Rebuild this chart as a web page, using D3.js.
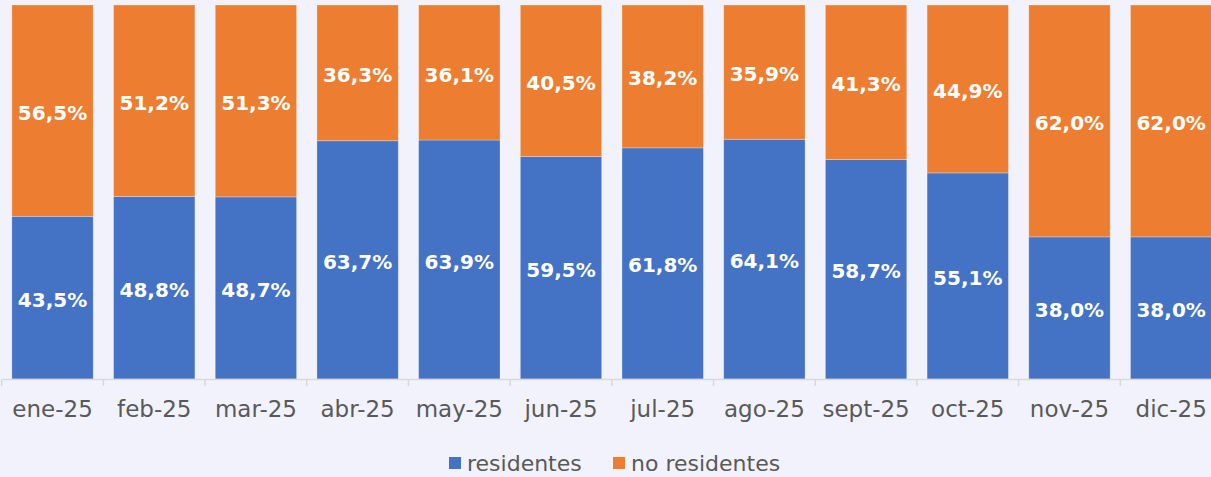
<!DOCTYPE html>
<html>
<head>
<meta charset="utf-8">
<script src="https://cdn.jsdelivr.net/npm/d3@7"></script>
<style>
  body { margin: 0; background: #f2f2fc; }
  svg { display: block; }
</style>
</head>
<body>
<script>
//chart data
var months = ["ene-25", "feb-25", "mar-25", "abr-25", "may-25", "jun-25",
              "jul-25", "ago-25", "sept-25", "oct-25", "nov-25", "dic-25"];
var residentes = [43.5, 48.8, 48.7, 63.7, 63.9, 59.5, 61.8, 64.1, 58.7, 55.1, 38.0, 38.0];
var noResidentes = [56.5, 51.2, 51.3, 36.3, 36.1, 40.5, 38.2, 35.9, 41.3, 44.9, 62.0, 62.0];
var seriesNames = ["residentes", "no residentes"];
var colors = ["#4472c4", "#ed7d31"];

var width = 1211,
    height = 477;

var svg = d3.select("body")
    .append("svg")
    .attr("width", width)
    .attr("height", height);

svg.append("rect")
    .attr("width", width)
    .attr("height", height)
    .attr("fill", "#f2f2fc");

var font = "'Century Gothic', 'DejaVu Sans', sans-serif";

//scales
var x = d3.scaleBand()
    .domain(months)
    .range([1.7, 1222])
    .paddingInner(0.2)
    .paddingOuter(0.1);

var y = d3.scaleLinear()
    .domain([0, 100])
    .range([379, 5]);

//build stacked rows
var rows = months.map(function(m, i){
    return { month: m, residentes: residentes[i], "no residentes": noResidentes[i] };
});
var stack = d3.stack().keys(seriesNames)(rows);

var layers = svg.selectAll(".layer")
    .data(stack)
    .enter()
    .append("g")
    .attr("class", "layer")
    .attr("fill", function(d, i){ return colors[i]; });

layers.selectAll("rect")
    .data(function(d){ return d; })
    .enter()
    .append("rect")
    .attr("x", function(d){ return x(d.data.month); })
    .attr("y", function(d){ return y(d[1]); })
    .attr("width", x.bandwidth())
    .attr("height", function(d){ return y(d[0]) - y(d[1]); })
    .attr("stroke", "#ffffff")
    .attr("stroke-opacity", 0.35)
    .attr("stroke-width", 0.8);

//value labels
layers.selectAll("text")
    .data(function(d){ return d; })
    .enter()
    .append("text")
    .attr("x", function(d){ return x(d.data.month) + x.bandwidth() / 2; })
    .attr("y", function(d){ return (y(d[0]) + y(d[1])) / 2 + 2; })
    .attr("dy", "0.35em")
    .attr("text-anchor", "middle")
    .attr("fill", "#ffffff")
    .attr("font-family", font)
    .attr("font-weight", "bold")
    .attr("font-size", "20px")
    .text(function(d){ return (d[1] - d[0]).toFixed(1).replace(".", ",") + "%"; });

//x axis
var axis = svg.append("g")
    .attr("transform", "translate(0,379)")
    .call(d3.axisBottom(x).tickSize(0).tickPadding(22));
axis.select(".domain").attr("stroke", "#d9d9d9").attr("stroke-width", 1.5);
axis.selectAll("text")
    .attr("fill", "#595959")
    .attr("font-family", font)
    .attr("font-size", "23px");

//tick marks between categories
var step = x.step();
svg.selectAll(".tickmark")
    .data(d3.range(months.length + 1))
    .enter()
    .append("line")
    .attr("x1", function(i){ return 1.7 + i * step; })
    .attr("x2", function(i){ return 1.7 + i * step; })
    .attr("y1", 379)
    .attr("y2", 386)
    .attr("stroke", "#d9d9d9")
    .attr("stroke-width", 1.5);

//legend
var legendX = [449, 613];
var legend = svg.selectAll(".legend")
    .data(seriesNames)
    .enter()
    .append("g")
    .attr("transform", function(d, i){ return "translate(" + legendX[i] + ",457)"; });
legend.append("rect")
    .attr("width", 12)
    .attr("height", 12)
    .attr("fill", function(d, i){ return colors[i]; });
legend.append("text")
    .attr("x", 18)
    .attr("y", 6)
    .attr("dy", "0.35em")
    .attr("fill", "#595959")
    .attr("font-family", font)
    .attr("font-size", "22px")
    .text(function(d){ return d; });
</script>
</body>
</html>
